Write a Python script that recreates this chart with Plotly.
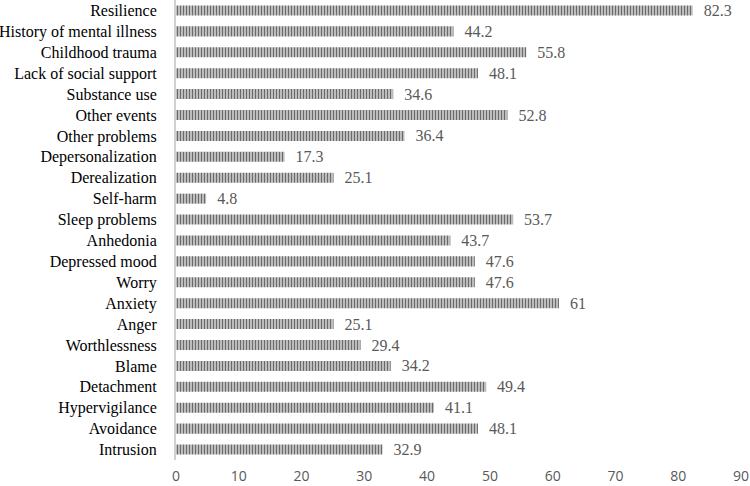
import plotly.graph_objects as go

categories = [
    "Resilience", "History of mental illness", "Childhood trauma",
    "Lack of social support", "Substance use", "Other events", "Other problems",
    "Depersonalization", "Derealization", "Self-harm", "Sleep problems",
    "Anhedonia", "Depressed mood", "Worry", "Anxiety", "Anger",
    "Worthlessness", "Blame", "Detachment", "Hypervigilance", "Avoidance",
    "Intrusion",
]
values = [
    82.3, 44.2, 55.8, 48.1, 34.6, 52.8, 36.4, 17.3, 25.1, 4.8, 53.7,
    43.7, 47.6, 47.6, 61, 25.1, 29.4, 34.2, 49.4, 41.1, 48.1, 32.9,
]
value_text = ["  " + str(v) for v in values]

fig = go.Figure(
    go.Bar(
        x=values,
        y=categories,
        orientation="h",
        text=value_text,
        textposition="outside",
        constraintext="none",
        cliponaxis=False,
        textfont=dict(family="Liberation Serif", size=16, color="#595959"),
        marker=dict(
            color="#d9d9d9",
            line=dict(width=0),
            pattern=dict(shape="|", fgcolor="#6a6a6a", bgcolor="#d9d9d9",
                         size=3, solidity=0.5, fillmode="replace"),
        ),
    )
)

fig.update_layout(
    width=750,
    height=486,
    margin=dict(l=176, r=9, t=0, b=26),
    plot_bgcolor="white",
    paper_bgcolor="white",
    bargap=0.52,
    showlegend=False,
)
fig.update_xaxes(
    range=[0, 90],
    dtick=10,
    automargin=False,
    showgrid=False,
    zeroline=False,
    showline=False,
    ticks="outside",
    ticklen=3,
    tickcolor="white",
    tickfont=dict(family="Open Sans", size=14, color="#595959"),
)
fig.update_yaxes(
    categoryorder="array",
    categoryarray=categories[::-1],
    automargin=False,
    showline=True,
    linecolor="#d0d0d0",
    linewidth=2,
    showgrid=False,
    ticks="",
    ticklabelstandoff=14,
    tickfont=dict(family="Liberation Serif", size=16, color="black"),
)

# page body has a default 8px margin; drop it so the figure sits at 0,0
fig.write_html(
    "out.html",
    config={"displayModeBar": False},
    post_script="document.body.style.margin='0';",
)
